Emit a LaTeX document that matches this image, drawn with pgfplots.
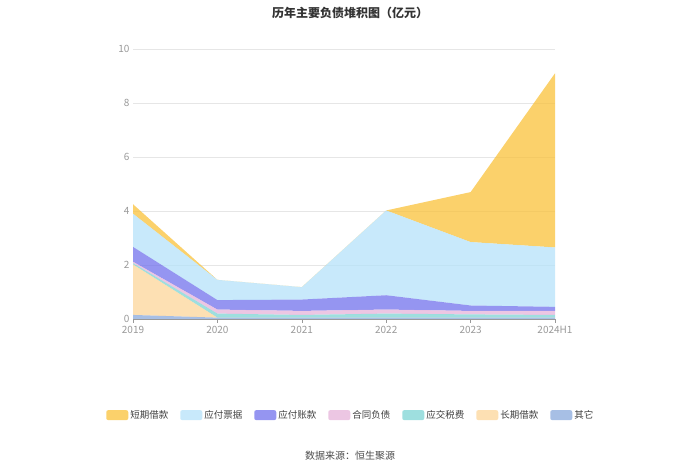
\documentclass[border=0pt]{standalone}
\usepackage{pgfplots}
\pgfplotsset{compat=1.18}
\usepackage{fontspec}
\setmainfont{Noto Sans CJK SC}
\definecolor{cA}{HTML}{F9C13A}
\definecolor{cB}{HTML}{B5E2F9}
\definecolor{cC}{HTML}{7171EC}
\definecolor{cD}{HTML}{E6B3DA}
\definecolor{cE}{HTML}{7DD4D4}
\definecolor{cF}{HTML}{FDD59A}
\definecolor{cG}{HTML}{89A9DC}
\definecolor{gridc}{HTML}{E6E6E6}
\definecolor{tickc}{HTML}{999999}
\begin{document}
\begin{tikzpicture}
\path[use as bounding box] (0pt,0pt) rectangle (700pt,473pt);
\begin{axis}[
  at={(133pt,154pt)}, anchor=south west,
  scale only axis, width=422pt, height=270pt,
  xmin=0, xmax=5, ymin=0, ymax=10,
  xtick={0,1,2,3,4,5},
  xticklabels={2019,2020,2021,2022,2023,2024H1},
  ytick={0,2,4,6,8,10},
  axis y line*=left, axis x line*=bottom,
  y axis line style={draw=none},
  x axis line style={draw=tickc, line width=0.6pt},
  ymajorgrids, grid style={gridc, line width=0.5pt},
  major y tick style={draw=none},
  major x tick style={draw=tickc, line width=0.6pt},
  xtick align=outside, major tick length=4pt,
  ticklabel style={font=\fontsize{10}{12}\selectfont, text=tickc},
  /pgf/number format/assume math mode=true,
  stack plots=y,
  every axis plot/.append style={draw=none, fill opacity=0.75},
  legend columns=7, reverse legend,
  legend style={at={(0.516,-0.358)}, anchor=center, draw=none, fill=none,
    font=\fontsize{9.5}{11}\selectfont, text=black!75,
    /tikz/every even column/.append style={column sep=10pt}},
  legend cell align=left,
]
\addplot[fill=cG, legend image code/.code={\fill[cG, rounded corners=2pt] (0pt,-4.5pt) rectangle (22pt,5.5pt);}] coordinates {(0,0.15) (1,0.05) (2,0.05) (3,0.05) (4,0.05) (5,0.05)} \closedcycle;
\addlegendentry{其它}
\addplot[fill=cF, legend image code/.code={\fill[cF, rounded corners=2pt] (0pt,-4.5pt) rectangle (22pt,5.5pt);}] coordinates {(0,1.87) (1,0) (2,0) (3,0) (4,0) (5,0)} \closedcycle;
\addlegendentry{长期借款}
\addplot[fill=cE, legend image code/.code={\fill[cE, rounded corners=2pt] (0pt,-4.5pt) rectangle (22pt,5.5pt);}] coordinates {(0,0.05) (1,0.15) (2,0.1) (3,0.15) (4,0.12) (5,0.1)} \closedcycle;
\addlegendentry{应交税费}
\addplot[fill=cD, legend image code/.code={\fill[cD, rounded corners=2pt] (0pt,-4.5pt) rectangle (22pt,5.5pt);}] coordinates {(0,0.05) (1,0.15) (2,0.15) (3,0.15) (4,0.13) (5,0.15)} \closedcycle;
\addlegendentry{合同负债}
\addplot[fill=cC, legend image code/.code={\fill[cC, rounded corners=2pt] (0pt,-4.5pt) rectangle (22pt,5.5pt);}] coordinates {(0,0.55) (1,0.35) (2,0.42) (3,0.53) (4,0.2) (5,0.15)} \closedcycle;
\addlegendentry{应付账款}
\addplot[fill=cB, legend image code/.code={\fill[cB, rounded corners=2pt] (0pt,-4.5pt) rectangle (22pt,5.5pt);}] coordinates {(0,1.23) (1,0.75) (2,0.46) (3,3.14) (4,2.35) (5,2.2)} \closedcycle;
\addlegendentry{应付票据}
\addplot[fill=cA, legend image code/.code={\fill[cA, rounded corners=2pt] (0pt,-4.5pt) rectangle (22pt,5.5pt);}] coordinates {(0,0.35) (1,0) (2,0) (3,0) (4,1.85) (5,6.45)} \closedcycle;
\addlegendentry{短期借款}
\end{axis}
\node[font=\fontsize{12}{14}\selectfont\bfseries, text=black!80] at (350pt,460pt) {历年主要负债堆积图（亿元）};
\node[font=\fontsize{10}{12}\selectfont, text=black!70] at (350pt,17pt) {数据来源：恒生聚源};
\end{tikzpicture}
\end{document}
